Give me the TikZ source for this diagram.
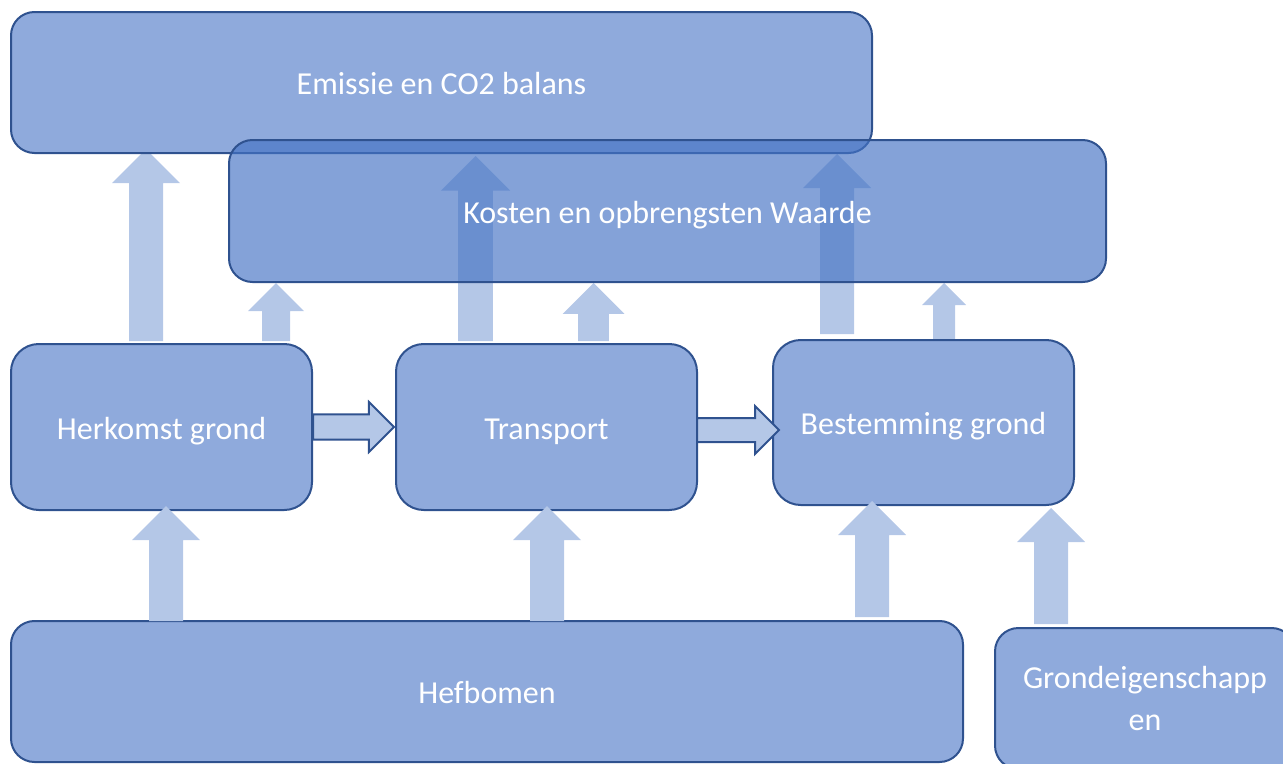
\documentclass[tikz,border=0pt]{standalone}
\usepackage{fontspec}
\setmainfont[Ligatures=NoCommon]{Carlito}
\usetikzlibrary{calc}

\definecolor{boxblue}{HTML}{4472C4}
\definecolor{boxfill}{HTML}{8FAADC}
\definecolor{boxline}{HTML}{2F528F}
\definecolor{flowfill}{HTML}{B4C7E7}

\pgfdeclarelayer{achter}
\pgfsetlayers{achter,main}

\tikzset{
  blok/.style={draw=boxline, line width=1.5pt, fill=boxfill, text=white, inner sep=0pt,
    rounded corners=17.6pt, align=center, font=\fontsize{24}{31.5}\selectfont},
  regel/.style={text height=22pt, text depth=4pt},
  omhoog/.style={fill=flowfill, to path={let \p1=(\tikztostart), \p2=(\tikztotarget) in
    (\x1-#1,\y1) -- (\x1-#1,\y2-2*#1) -- (\x1-2*#1,\y2-2*#1) -- (\x1,\y2)
    -- (\x1+2*#1,\y2-2*#1) -- (\x1+#1,\y2-2*#1) -- (\x1+#1,\y1) -- cycle}},
  vooruit/.style={draw=boxline, line width=1.5pt, fill=flowfill, to path={let \p1=(\tikztostart), \p2=(\tikztotarget) in
    (\x1,\y1-#1) -- (\x2-2*#1,\y1-#1) -- (\x2-2*#1,\y1-2*#1) -- (\x2,\y1)
    -- (\x2-2*#1,\y1+2*#1) -- (\x2-2*#1,\y1+#1) -- (\x1,\y1+#1) -- cycle}}
}

\begin{document}
\begin{tikzpicture}[x=0.75pt,y=-0.75pt]
	\useasboundingbox (0,0) rectangle (1283,764);

	% resultaten
	\node [blok, regel, minimum width=645.75pt, minimum height=105.75pt] (emissie) at (441.5,82.5) {Emissie en CO2 balans};
	\node [blok, regel, fill=boxblue, fill opacity=0.66, text opacity=1, minimum width=657.75pt, minimum height=106.5pt] (kosten) at (667.5,211) {Kosten en opbrengsten Waarde};

	% keten
	\node [blok, regel, rounded corners=20.8pt, minimum width=225.75pt, minimum height=124.5pt] (herkomst) at (161.5,427) {Herkomst grond};
	\node [blok, regel, rounded corners=20.8pt, minimum width=225.75pt, minimum height=124.5pt] (transport) at (546.5,427) {Transport};
	\node [blok, regel, rounded corners=20.8pt, minimum width=225.75pt, minimum height=123.75pt] (bestemming) at (923.5,422.5) {Bestemming grond};

	% invloeden
	\node [blok, regel, minimum width=714pt, minimum height=105.75pt] (hefbomen) at (487,691.5) {Hefbomen};
	\node [blok, minimum width=225pt, minimum height=105.75pt] (grond) at (1145,698.5) {Grondeigenschapp\\en};

	\begin{pgfonlayer}{achter}
	\path [omhoog=12.75pt] ($(herkomst.north)+(-15.5,-2)$) to ($(emissie.south)+(0,-5)$);
	\path [omhoog=10.5pt] ($(herkomst.north)+(114.5,-2)$) to (kosten.south);
	\path [omhoog=13pt] ($(transport.north)+(-71,-2)$) to ($(emissie.south)+(0,2)$);
	\path [omhoog=11.6pt] ($(transport.north)+(47,-2)$) to (kosten.south);
	\path [omhoog=12.75pt] ($(bestemming.north)+(-86.5,-5)$) to (emissie.south);
	\path [omhoog=8.25pt] ($(bestemming.north)+(20.5,0)$) to (kosten.south);
	\end{pgfonlayer}

	\path [omhoog=12.75pt] ($(hefbomen.north)+(-321,1)$) to ($(herkomst.south)+(0,-5)$);
	\path [omhoog=12.75pt] ($(hefbomen.north)+(60,1)$) to ($(transport.south)+(0,-5)$);
	\path [omhoog=12.75pt] ($(hefbomen.north)+(385,-3)$) to ($(bestemming.south)+(0,-5)$);
	\path [omhoog=12.75pt] ($(grond.north)+(-94,-3)$) to ($(bestemming.south)+(0,2)$);

	\draw [vooruit=9.4pt] (herkomst.east) to ($(transport.west)+(-1,0)$);
	\draw [vooruit=9pt] ($(transport.east)+(-1,3)$) to ($(bestemming.west)+(7,0)$);
\end{tikzpicture}
\end{document}
